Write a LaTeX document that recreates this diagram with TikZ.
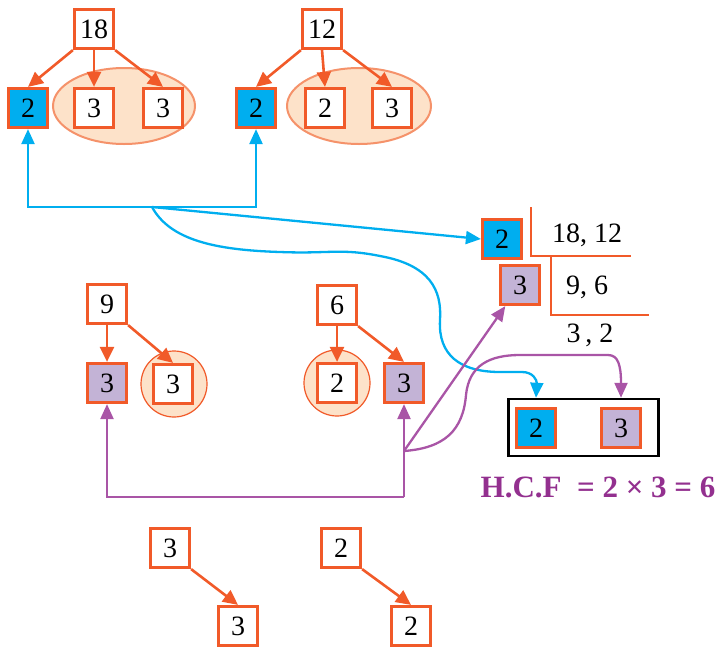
\documentclass[tikz,border=0pt]{standalone}
\usepackage{fontspec}
\setmainfont{Liberation Serif}
\usetikzlibrary{arrows.meta,shapes.geometric,calc}
\definecolor{org}{HTML}{F15A29}
\definecolor{cyanb}{HTML}{00AEEF}
\definecolor{lav}{HTML}{C3B3D6}
\definecolor{pline}{HTML}{A955A6}
\definecolor{ptext}{HTML}{93308F}
\definecolor{peach}{HTML}{FDE2C9}
\definecolor{peachline}{HTML}{F5926A}
\tikzset{
  numbox/.style={draw=org, line width=3.2pt, minimum size=39pt, inner sep=0pt, fill=white, font=\fontsize{28}{30}\selectfont},
  bluebox/.style={numbox, fill=cyanb},
  lavbox/.style={numbox, fill=lav},
  ovalgrp/.style={ellipse, draw=peachline, fill=peach, line width=2pt, inner sep=0pt},
  circgrp/.style={circle, draw=org, fill=peach, line width=1.2pt, inner sep=0pt, minimum size=66pt},
  oarr/.style={draw=org, line width=2.6pt, -{Triangle[length=15pt,width=14pt]}},
  barr/.style={draw=cyanb, line width=2.3pt, -{Triangle[length=15pt,width=13pt]}},
  parr/.style={draw=pline, line width=2.3pt, -{Triangle[length=15pt,width=13pt]}},
  divline/.style={draw=org, line width=2.6pt},
  numtxt/.style={font=\fontsize{28}{30}\selectfont, inner sep=0pt},
}
\begin{document}
\begin{tikzpicture}[x=1pt,y=-1pt]
\useasboundingbox (0,0) rectangle (719,648);
% ellipses and circles
\node[ovalgrp, minimum width=142pt, minimum height=76pt] (e1) at (124,106) {};
\node[ovalgrp, minimum width=144pt, minimum height=76pt] (e2) at (359,106) {};
\node[circgrp] (c1) at (174,384) {};
\node[circgrp] (c2) at (337,383) {};
% top-left tree
\node[numbox] (n18) at (94,29) {18};
\node[bluebox] (a2) at (28,108) {2};
\node[numbox] (a3) at (94,108) {3};
\node[numbox] (a4) at (163,108) {3};
\draw[oarr] (n18.south west) -- (a2.north);
\draw[oarr] (n18.south) -- (a3.north);
\draw[oarr] (n18.south east) -- (a4.north);
% top-middle tree
\node[numbox] (n12) at (322,29) {12};
\node[bluebox] (b2) at (256,108) {2};
\node[numbox] (b3) at (325,108) {2};
\node[numbox] (b4) at (392,108) {3};
\draw[oarr] (n12.south west) -- (b2.north);
\draw[oarr] (n12.south) -- (b3.north);
\draw[oarr] (n12.south east) -- (b4.north);
% middle-left tree
\node[numbox] (n9) at (107,304) {9};
\node[lavbox] (p9) at (107,383) {3};
\node[numbox] (q9) at (173,384) {3};
\draw[oarr] (n9.south) -- (p9.north);
\draw[oarr] (n9.south east) -- (q9.north);
% middle-right tree
\node[numbox] (n6) at (337,305) {6};
\node[numbox] (q6) at (337,383) {2};
\node[lavbox] (p6) at (404,383) {3};
\draw[oarr] (n6.south) -- (q6.north);
\draw[oarr] (n6.south east) -- (p6.north);
% bottom
\node[numbox] (m3) at (170,548) {3};
\node[numbox] (m3b) at (238,626) {3};
\node[numbox] (m2) at (341,548) {2};
\node[numbox] (m2b) at (411,626) {2};
\draw[oarr] (m3.south east) -- (m3b.north);
\draw[oarr] (m2.south east) -- (m2b.north);
% division
\node[bluebox] (d2) at (502,239) {2};
\node[lavbox] (d3) at (520,285) {3};
\coordinate (v1) at (531,207);
\coordinate (h1) at (631,256);
\coordinate (v2) at (551,256);
\coordinate (h2) at (649,315);
\draw[divline] (v1) |- (h1);
\draw[divline] (v2) |- (h2);
\node[numtxt] (t1) at (587,235) {18, 12};
\node[numtxt] (t2) at (587,287) {9, 6};
\node[numtxt] (t3) at (590,335) {3\,, 2};
% result
\node[draw=black, line width=2.5pt, minimum width=150pt, minimum height=57pt, inner sep=0pt] (res) at (583.5,427.5) {};
\node[bluebox] (r2) at (536,428) {2};
\node[lavbox] (r3) at (621,428) {3};
\node[anchor=base, text=ptext, font=\fontsize{31}{34}\selectfont\bfseries, inner sep=0pt] (hcf) at (598,497) {H.C.F\ \ = 2 × 3 = 6};
% blue connectors
\coordinate (j1) at (152,207);
\draw[barr] (j1) -| (a2.south);
\draw[barr] (j1) -| (b2.south);
\draw[barr] (j1) -- (d2.west);
\draw[barr] (j1) .. controls (170,240) and (215,250) .. (280,252)
  .. controls (330,254) and (340,248) .. (380,256)
  .. controls (430,265) and (442,290) .. (440,320)
  .. controls (438,355) and (460,372) .. (500,372)
  -- (522,372) .. controls (533,372) and (537,380) .. (r2.north |- res.north);
% purple connectors
\coordinate (pb) at (404,497);
\coordinate (pj) at (404,451);
\draw[parr] (pb) -| (p9.south);
\draw[parr] (pb) -- (p6.south);
\draw[parr] (pj) -- (d3);
\draw[parr] (pj) .. controls (445,448) and (463,430) .. (466,395)
  .. controls (469,365) and (490,355) .. (520,355)
  -- (608,355) .. controls (618,355) and (621,365) .. (r3.north |- res.north);
\end{tikzpicture}
\end{document}
